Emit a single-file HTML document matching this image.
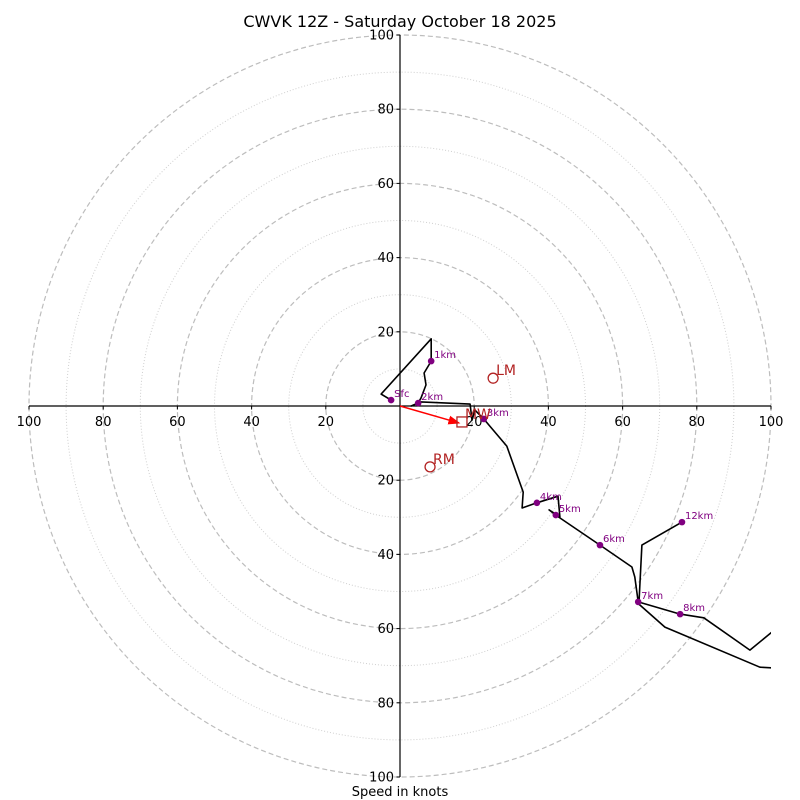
<!DOCTYPE html>
<html><head><meta charset="utf-8"><style>
html,body{margin:0;padding:0;background:#fff}
svg{display:block;font-family:"DejaVu Sans","Liberation Sans",sans-serif}
</style></head><body>
<svg id="c" width="800" height="800" viewBox="0 0 800 800">
<defs><clipPath id="clip"><rect x="29" y="35" width="742" height="742"/></clipPath>
<marker id="ah" markerWidth="8" markerHeight="8" refX="7" refY="4" orient="auto"><path d="M0,1 L8,4 L0,7 Z" fill="#ff0000"/></marker></defs>
<text x="400" y="27" text-anchor="middle" font-size="16" fill="#000">CWVK 12Z - Saturday October 18 2025</text>
<g id="rings"></g>
<g id="axes"></g>
<g id="trace" clip-path="url(#clip)"></g>
<g id="marks"></g>
<text x="400" y="796" text-anchor="middle" font-size="13">Speed in knots</text>
</svg>
<script>
// wind profile (u, v in knots)
const traceU = [-2.4,-5.1,8.4,8.4,6.5,7.0,5.7,4.9,3.0,5.7,18.9,19.4,20.2,22.6,28.8,33.2,32.9,36.9,42.6,43.1,40.2,42.0,53.9,62.5,63.3,64.2,75.5,81.9,94.3,100.3,106,110,100.3,97.0,71.4,64.4,65.2,76.0];
const traceV = [1.6,3.2,18.1,12.1,8.9,5.7,2.2,0.8,0,1.1,0.5,-3.8,-1.1,-3.5,-10.8,-23.2,-27.5,-26.1,-24.3,-29.9,-28.0,-29.4,-37.5,-43.4,-46.1,-52.8,-56.1,-57.1,-65.8,-60.9,-57,-70,-70.6,-70.4,-59.6,-53.4,-37.5,-31.3];
const levelNames = ["Sfc","1km","2km","3km","4km","5km","6km","7km","8km","12km"];
const levelU = [-2.4,8.4,4.9,22.6,36.9,42.0,53.9,64.2,75.5,76.0];
const levelV = [1.6,12.1,0.8,-3.5,-26.1,-29.4,-37.5,-52.8,-56.1,-31.3];
const ringValues = [10,20,30,40,50,60,70,80,90,100];
const tickValues = [20,40,60,80,100];
const lmUV = [25.1,7.5], rmUV = [8.1,-16.4], mwUV = [16.7,-4.3];

const CX=400, CY=406, S=3.71;
const px=u=>CX+u*S, py=v=>CY-v*S;
const NS="http://www.w3.org/2000/svg";
function mk(tag,attrs,parent,txt){const e=document.createElementNS(NS,tag);for(const k in attrs)e.setAttribute(k,attrs[k]);if(txt!=null)e.textContent=txt;parent.appendChild(e);return e;}
const rings=document.getElementById('rings'),axes=document.getElementById('axes'),trace=document.getElementById('trace'),marks=document.getElementById('marks');

ringValues.forEach(r=>{
  const major=r%20===0;
  const c=mk('circle',{cx:CX,cy:CY,r:r*S,fill:'none',stroke:major?'#bdbdbd':'#cfcfcf','stroke-width':major?1.2:1,'stroke-dasharray':major?'5,3':'1,2'},rings);
  
  
});
mk('line',{x1:px(-100),y1:CY,x2:px(100),y2:CY,stroke:'#000','stroke-width':1.2},axes);
mk('line',{x1:CX,y1:py(100),x2:CX,y2:py(-100),stroke:'#000','stroke-width':1.2},axes);
tickValues.forEach(t=>{
  [-1,1].forEach(s=>{
    const x=px(s*t);
    mk('line',{x1:x,y1:CY,x2:x,y2:CY+3.5,stroke:'#000','stroke-width':1},axes);
    const tx=mk('text',{x:x,y:CY+20,'text-anchor':'middle','font-size':13},axes,String(t));
    
    
    const y=py(s*t);
    mk('line',{x1:CX-3.5,y1:y,x2:CX,y2:y,stroke:'#000','stroke-width':1},axes);
    const ty=mk('text',{x:CX-6,y:y+4.5,'text-anchor':'end','font-size':13},axes,String(t));
    
    
  });
});

const pts=traceU.map((u,i)=>px(u).toFixed(1)+','+py(traceV[i]).toFixed(1)).join(' ');
const pl=mk('polyline',{points:pts,fill:'none',stroke:'#000','stroke-width':1.6,'stroke-linejoin':'round'},trace);



const ar=mk('line',{x1:CX,y1:CY,x2:px(mwUV[0])-3,y2:py(mwUV[1])+1,stroke:'#ff0000','stroke-width':1.5,'marker-end':'url(#ah)'},marks);



levelNames.forEach((n,i)=>{
  const x=px(levelU[i]),y=py(levelV[i]);
  const d=mk('circle',{cx:x,cy:y,r:3.3,fill:'#800080'},marks);
  
  
  const t=mk('text',{x:x+3,y:y-3,'font-size':10,fill:'#800080'},marks,n);
  
  
});

function motion(uv,name,shape){
  const x=px(uv[0]),y=py(uv[1]);
  let e;
  if(shape==='c') e=mk('circle',{cx:x,cy:y,r:5,fill:'none',stroke:'#b22222','stroke-width':1.3},marks);
  else e=mk('rect',{x:x-5,y:y-5,width:10,height:10,fill:'none',stroke:'#b22222','stroke-width':1.3},marks);
  
  
  const t=mk('text',{x:x+3,y:y-3,'font-size':14,fill:'#b22222'},marks,name);
  
  
}
motion(lmUV,'LM','c');
motion(rmUV,'RM','c');
motion(mwUV,'MW','s');
</script>
</body></html>
